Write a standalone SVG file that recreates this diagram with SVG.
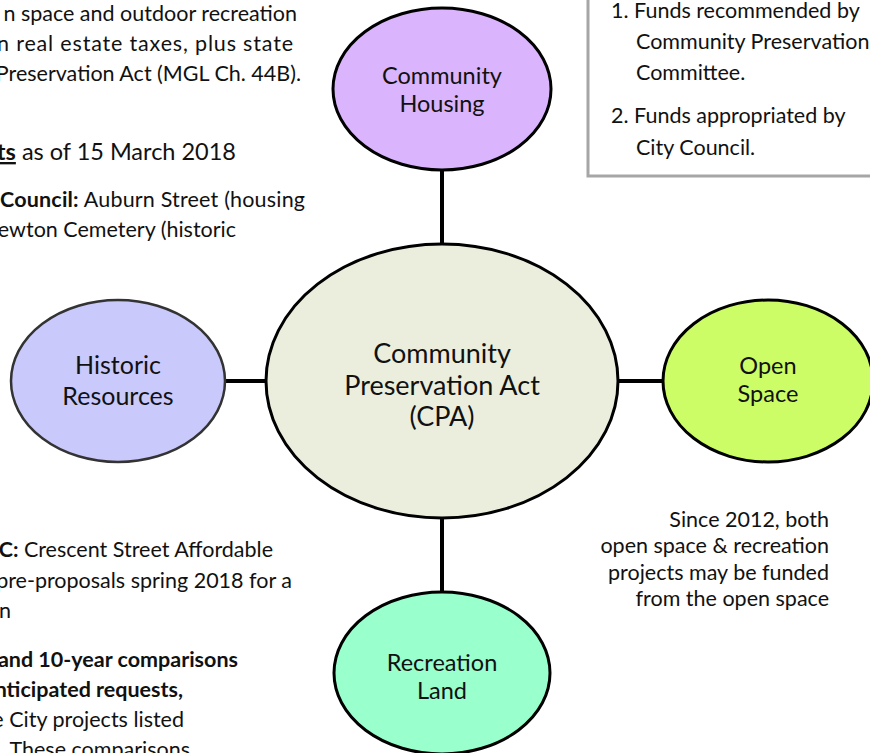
<svg xmlns="http://www.w3.org/2000/svg" width="870" height="753" viewBox="0 0 870 753">
<style>
.t{font-family:Lato,"Liberation Sans",sans-serif;fill:#111;}
.body{font-size:21.5px;}
.b{font-weight:bold;}
.node{stroke:#000;stroke-width:3;}
.lbl{text-anchor:middle;}
.conn{stroke:#000;stroke-width:4;fill:none;}
</style>
<rect width="870" height="753" fill="#fff"/>
<!-- top-left text (clipped) -->
<g class="t body" text-anchor="end">
<text x="297" y="21">n space and outdoor recreation</text>
<text x="293" y="51" textLength="296" lengthAdjust="spacing">n real estate taxes, plus state</text>
<text x="301" y="81">Preservation Act (MGL Ch. 44B).</text>
<text x="236" y="160" style="font-size:23.5px"><tspan class="b" text-decoration="underline">ts</tspan> as of 15 March 2018</text>
<text x="305" y="207" textLength="305" lengthAdjust="spacing"><tspan class="b">Council:</tspan>  Auburn Street (housing</text>
<text x="236" y="237">ewton Cemetery (historic</text>
<text x="273" y="557"><tspan class="b">C:</tspan> Crescent Street Affordable</text>
<text x="292" y="588">pre-proposals spring 2018 for a</text>
<text x="11" y="618">n</text>
<text x="238" y="667" class="b">and 10-year comparisons</text>
<text x="183" y="697" class="b">nticipated requests,</text>
<text x="184" y="727">e City projects listed</text>
<text x="190" y="757">These comparisons</text>
</g>
<!-- top-right box -->
<g id="process-box">
<rect x="588" y="-10" width="300" height="186" fill="#fff" stroke="#a6a6a6" stroke-width="3"/>
<g class="t body">
<text x="611" y="18">1. Funds recommended by</text>
<text x="636" y="49">Community Preservation</text>
<text x="636" y="80">Committee.</text>
<text x="611" y="123">2. Funds appropriated by</text>
<text x="636" y="155">City Council.</text>
</g>
</g>
<!-- right text -->
<g class="t body" text-anchor="end">
<text x="829" y="527">Since 2012, both</text>
<text x="829" y="553">open space &amp; recreation</text>
<text x="829" y="580">projects may be funded</text>
<text x="829" y="606">from the open space</text>
</g>
<!-- connectors -->
<g id="connectors">
<line class="conn" x1="442" y1="170" x2="442" y2="245"/>
<line class="conn" x1="442" y1="517" x2="442" y2="593"/>
<line class="conn" x1="224" y1="381" x2="267" y2="381"/>
<line class="conn" x1="617" y1="381" x2="664" y2="381"/>
</g>
<g id="cpa">
<ellipse class="node" cx="442" cy="381" rx="176" ry="137" fill="#ebeedd"/>
<g class="t lbl" style="font-size:27px">
<text x="442" y="363">Community</text>
<text x="442" y="395">Preservation Act</text>
<text x="442" y="426">(CPA)</text>
</g>
</g>
<g id="housing">
<ellipse class="node" cx="442" cy="89" rx="109" ry="81" fill="#dab4fc"/>
<g class="t lbl" style="font-size:23.5px">
<text x="442" y="84">Community</text>
<text x="442" y="112">Housing</text>
</g>
</g>
<g id="historic">
<ellipse cx="118" cy="381" rx="107" ry="81" fill="#c9c9fb" stroke="#333" stroke-width="2.5"/>
<g class="t lbl" style="font-size:25px">
<text x="118" y="374">Historic</text>
<text x="118" y="405">Resources</text>
</g>
</g>
<g id="openspace">
<ellipse class="node" cx="768" cy="381" rx="105" ry="81" fill="#ccfd66"/>
<g class="t lbl" style="font-size:23.5px">
<text x="768" y="374">Open</text>
<text x="768" y="402">Space</text>
</g>
</g>
<g id="recreation">
<ellipse class="node" cx="442" cy="673" rx="108" ry="81" fill="#99ffcc"/>
<g class="t lbl" style="font-size:23.5px">
<text x="442" y="671">Recreation</text>
<text x="442" y="699">Land</text>
</g>
</g>
</svg>
